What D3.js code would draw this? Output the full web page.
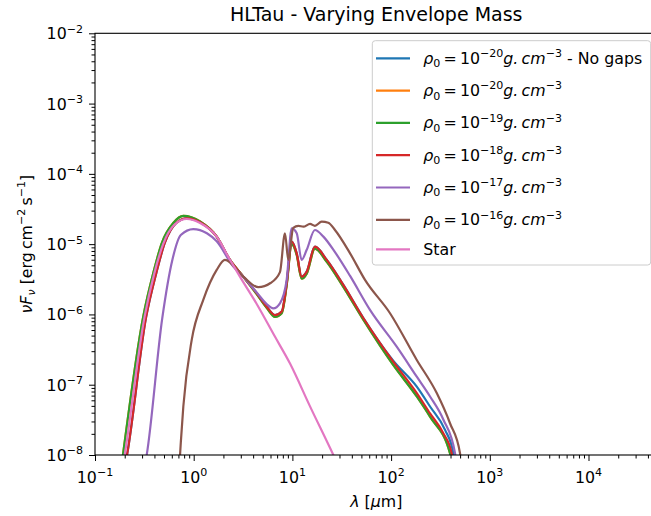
<!DOCTYPE html>
<html>
<head>
<meta charset="utf-8">
<script src="https://cdn.jsdelivr.net/npm/d3@7"></script>
<style>
  body { margin: 0; background: #fff; }
  svg { font-family: "DejaVu Sans", sans-serif; }
</style>
</head>
<body>
<svg id="sed"></svg>
<script>
// SED points: [wavelength in um, nuFnu in erg cm-2 s-1]
const sedNoGaps = [[0.205, 8e-9], [0.211, 1e-8], [0.33, 9.3e-7], [0.418, 3.9e-6], [0.508, 1.03e-5], [0.666, 2.0e-5], [0.85, 2.33e-5], [1.16, 2.05e-5], [1.71, 1.28e-5], [2.33, 5.96e-6], [3.18, 3.45e-6], [4.35, 2.0e-6], [5.49, 1.29e-6], [6.67, 9.8e-7], [7.79, 1.1e-6], [8.75, 2.78e-6], [9.84, 1.09e-5], [11.06, 7.4e-6], [12.4, 3.45e-6], [13.96, 4.06e-6], [16.9, 9.2e-6], [22.3, 5.96e-6], [32.8, 2.63e-6], [52.3, 8.9e-7], [105, 2.2e-7], [182, 9.4e-8], [248, 4.9e-8], [352, 2.28e-8], [427, 1.06e-8], [440, 8e-9]];
const sedRho20 = [[0.188, 8e-9], [0.192, 1e-8], [0.308, 9.3e-7], [0.39, 3.9e-6], [0.474, 1.03e-5], [0.621, 2.0e-5], [0.785, 2.52e-5], [1.16, 2.1e-5], [1.71, 1.28e-5], [2.33, 5.96e-6], [3.18, 3.45e-6], [4.35, 1.95e-6], [5.49, 1.24e-6], [6.67, 9.2e-7], [7.79, 1.04e-6], [8.75, 2.61e-6], [9.84, 1.0e-5], [11.06, 7.0e-6], [12.4, 3.23e-6], [13.96, 3.8e-6], [16.9, 8.6e-6], [22.3, 5.6e-6], [32.8, 2.46e-6], [52.3, 8.4e-7], [105, 1.91e-7], [182, 6.8e-8], [248, 3.5e-8], [395, 1.06e-8], [410, 8e-9]];
const sedRho19 = [[0.188, 8e-9], [0.192, 1e-8], [0.308, 9.3e-7], [0.39, 3.9e-6], [0.474, 1.03e-5], [0.621, 2.0e-5], [0.785, 2.52e-5], [1.16, 2.1e-5], [1.71, 1.28e-5], [2.33, 5.96e-6], [3.18, 3.45e-6], [4.35, 1.95e-6], [5.49, 1.24e-6], [6.67, 9.2e-7], [7.79, 1.04e-6], [8.75, 2.61e-6], [9.84, 1.0e-5], [11.06, 7.0e-6], [12.4, 3.23e-6], [13.96, 3.8e-6], [16.9, 8.6e-6], [22.3, 5.6e-6], [32.8, 2.46e-6], [52.3, 8.4e-7], [105, 1.91e-7], [182, 6.8e-8], [248, 3.5e-8], [395, 1.06e-8], [410, 8e-9]];
const sedRho18 = [[0.205, 8e-9], [0.211, 1e-8], [0.33, 9.3e-7], [0.418, 3.9e-6], [0.508, 1.03e-5], [0.666, 2.0e-5], [0.85, 2.33e-5], [1.16, 2.05e-5], [1.71, 1.28e-5], [2.33, 5.96e-6], [3.18, 3.45e-6], [4.35, 2.0e-6], [5.49, 1.29e-6], [6.67, 9.8e-7], [7.79, 1.1e-6], [8.75, 2.78e-6], [9.84, 1.09e-5], [11.06, 7.4e-6], [12.4, 3.45e-6], [13.96, 4.06e-6], [16.9, 9.2e-6], [22.3, 5.96e-6], [32.8, 2.63e-6], [52.3, 8.9e-7], [105, 2.13e-7], [182, 7.6e-8], [248, 3.9e-8], [338, 2.04e-8], [411, 1.06e-8], [425, 8e-9]];
const sedRho17 = [[0.325, 8e-9], [0.334, 1e-8], [0.48, 8.8e-7], [0.61, 6.1e-6], [0.74, 1.35e-5], [0.99, 1.64e-5], [1.36, 1.43e-5], [1.71, 1.1e-5], [2.52, 4.79e-6], [3.18, 3.45e-6], [4.35, 2.05e-6], [5.49, 1.4e-6], [6.40, 1.22e-6], [7.48, 1.44e-6], [8.75, 3.1e-6], [9.84, 1.68e-5], [11.06, 1.43e-5], [12.4, 5.96e-6], [13.96, 8.3e-6], [16.9, 1.59e-5], [20.6, 1.28e-5], [27.0, 7.7e-6], [38.4, 3.53e-6], [61.1, 1.16e-6], [114, 3.48e-7], [182, 1.3e-7], [248, 6.8e-8], [338, 3.2e-8], [444, 1.06e-8], [455, 8e-9]];
const sedRho16 = [[0.72, 8e-9], [0.74, 1.5e-8], [0.785, 4.9e-8], [0.955, 4.34e-7], [1.25, 1.61e-6], [1.71, 4.3e-6], [2.07, 5.96e-6], [3.18, 3.45e-6], [4.51, 2.44e-6], [6.0, 2.8e-6], [7.48, 4.0e-6], [8.41, 1.43e-5], [9.08, 5.96e-6], [10.2, 1.7e-5], [11.5, 1.82e-5], [12.9, 1.77e-5], [15.1, 1.94e-5], [16.9, 1.82e-5], [19.8, 2.09e-5], [23.1, 2.02e-5], [27.0, 1.59e-5], [38.4, 7.4e-6], [54.4, 3.1e-6], [97.5, 1.04e-6], [182, 2.25e-7], [290, 7.6e-8], [395, 2.83e-8], [499, 1.06e-8], [510, 8e-9]];
const sedStar = [[0.195, 8e-9], [0.2, 1e-8], [0.318, 9.3e-7], [0.40, 3.9e-6], [0.49, 1.0e-5], [0.64, 1.9e-5], [0.85, 2.28e-5], [1.16, 2.0e-5], [1.71, 1.28e-5], [2.33, 6.0e-6], [2.94, 3.45e-6], [4.35, 1.41e-6], [6.67, 4.8e-7], [9.46, 2.0e-7], [15, 5.0e-8], [26, 1.0e-8], [28, 8e-9]];

// legend exponents for rho_0, in plotting order
const rhoExponents = ["\u221220", "\u221220", "\u221219", "\u221218", "\u221217", "\u221216"];
const seriesColors = ["#1f77b4", "#ff7f0e", "#2ca02c", "#d62728", "#9467bd", "#8c564b", "#e377c2"];
const allSeries = [sedNoGaps, sedRho20, sedRho19, sedRho18, sedRho17, sedRho16, sedStar];

// axis ticks
const xMajor = [1e-1, 1e0, 1e1, 1e2, 1e3, 1e4];
const xMajorExp = ["\u22121", "0", "1", "2", "3", "4"];
const yMajor = [1e-8, 1e-7, 1e-6, 1e-5, 1e-4, 1e-3, 1e-2];
const yMajorExp = ["\u22128", "\u22127", "\u22126", "\u22125", "\u22124", "\u22123", "\u22122"];

width = 651;
height = 516;
left = 95;
top_ = 33.3;
bottom = 455;
right = 657.5; // the right spine falls just outside the picture

svg = d3.select("#sed").attr("width", width).attr("height", height);

const x = d3.scaleLog().domain([0.1, 5e4]).range([left, right]);
const y = d3.scaleLog().domain([1e-8, 1e-2]).range([bottom, top_]);

// write mathtext-like strings with tspans: [text, mode] mode = "", "it", "sup", "sub", "itsub"
function richText(sel, parts, fs) {
  let cur = 0;
  parts.forEach(([t, mode]) => {
    let off = 0, size = fs;
    if (mode.indexOf("sup") >= 0) { off = -0.42 * fs; size = 0.7 * fs; }
    if (mode.indexOf("sub") >= 0) { off = 0.22 * fs; size = 0.7 * fs; }
    sel.append("tspan")
      .attr("dy", off - cur)
      .style("font-size", size + "px")
      .style("font-style", mode.indexOf("it") >= 0 ? "italic" : "normal")
      .text(t);
    cur = off;
  });
}

// minor tick values for a log axis
function minors(lo, hi) {
  const out = [];
  for (let e = Math.floor(Math.log10(lo)); e <= Math.ceil(Math.log10(hi)); e++) {
    for (let m = 2; m <= 9; m++) {
      const v = m * Math.pow(10, e);
      if (v > lo && v < hi) out.push(v);
    }
  }
  return out;
}

svg.append("defs").append("clipPath").attr("id", "plot-clip")
  .append("rect")
  .attr("x", left).attr("y", top_)
  .attr("width", right - left).attr("height", bottom - top_);

// curves
const line = d3.line()
  .x(d => x(d[0]))
  .y(d => y(d[1]))
  .curve(d3.curveMonotoneX);

svg.append("g").attr("clip-path", "url(#plot-clip)")
  .selectAll("path")
  .data(allSeries)
  .enter()
  .append("path")
  .attr("d", line)
  .attr("fill", "none")
  .attr("stroke", (d, i) => seriesColors[i])
  .attr("stroke-width", 2.2)
  .attr("stroke-linejoin", "round");

// axes (labels are drawn separately so they can carry superscripts)
const xAxisMinor = d3.axisBottom(x).tickValues(minors(0.1, 5e4)).tickSize(3.5).tickFormat("").tickSizeOuter(0);
const xAxisMajor = d3.axisBottom(x).tickValues(xMajor).tickSize(6).tickFormat("").tickSizeOuter(0);
const yAxisMinor = d3.axisLeft(y).tickValues(minors(1e-8, 1e-2)).tickSize(3.5).tickFormat("").tickSizeOuter(0);
const yAxisMajor = d3.axisLeft(y).tickValues(yMajor).tickSize(6).tickFormat("").tickSizeOuter(0);

[[xAxisMinor, `translate(0,${bottom})`], [xAxisMajor, `translate(0,${bottom})`],
 [yAxisMinor, `translate(${left},0)`], [yAxisMajor, `translate(${left},0)`]].forEach(([ax, tr]) => {
  const g = svg.append("g").attr("transform", tr).call(ax);
  g.select(".domain").remove();
  g.selectAll("line").attr("stroke", "#000").attr("stroke-width", 1);
});

// frame
svg.append("rect")
  .attr("x", left).attr("y", top_)
  .attr("width", right - left).attr("height", bottom - top_)
  .attr("fill", "none").attr("stroke", "#000").attr("stroke-width", 1.1);

// tick labels
xMajor.forEach((v, i) => {
  const t = svg.append("text")
    .attr("x", x(v)).attr("y", 483)
    .attr("text-anchor", "middle")
    .attr("fill", "#000");
  richText(t, [["10", ""], [xMajorExp[i], "sup"]], 15.8);
});
yMajor.forEach((v, i) => {
  const t = svg.append("text")
    .attr("x", left - 12).attr("y", y(v) + 6)
    .attr("text-anchor", "end")
    .attr("fill", "#000");
  richText(t, [["10", ""], [yMajorExp[i], "sup"]], 15.8);
});

// title and axis labels
svg.append("text")
  .attr("x", (left + right) / 2).attr("y", 21)
  .attr("text-anchor", "middle")
  .style("font-size", "19px")
  .text("HLTau - Varying Envelope Mass");

const xl = svg.append("text")
  .attr("x", (left + right) / 2).attr("y", 507)
  .attr("text-anchor", "middle");
richText(xl, [["\u03bb", "it"], [" [", ""], ["\u03bc", "it"], ["m]", ""]], 15.8);

const yl = svg.append("text")
  .attr("transform", `translate(32,${(top_ + bottom) / 2}) rotate(-90)`)
  .attr("text-anchor", "middle");
richText(yl, [["\u03bdF", "it"], ["\u03bd", "itsub"], [" [erg\u2009cm", ""], ["\u22122", "sup"], ["\u2009s", ""], ["\u22121", "sup"], ["]", ""]], 15.8);

// legend
const legend = svg.append("g");
legend.append("rect")
  .attr("x", 372.3).attr("y", 40.7)
  .attr("width", 278.4).attr("height", 224.3)
  .attr("rx", 3)
  .attr("fill", "#fff").attr("fill-opacity", 0.8)
  .attr("stroke", "#cccccc").attr("stroke-width", 1);

const rowY = [58.3, 90.6, 122.9, 155.2, 187.5, 219.8, 249.3];
seriesColors.forEach((c, i) => {
  legend.append("line")
    .attr("x1", 376).attr("x2", 410)
    .attr("y1", rowY[i]).attr("y2", rowY[i])
    .attr("stroke", c).attr("stroke-width", 2.2);
  const t = legend.append("text")
    .attr("x", 423.3).attr("y", rowY[i] + 5.5)
    .attr("fill", "#000");
  if (i < rhoExponents.length) {
    const parts = [["\u03c1", "it"], ["0", "sub"], ["\u2009=\u200910", ""], [rhoExponents[i], "sup"], ["g.\u2009cm", "it"], ["\u22123", "sup"]];
    if (i === 0) parts.push([" - No gaps", ""]);
    richText(t, parts, 15.8);
  } else {
    richText(t, [["Star", ""]], 15.8);
  }
});
</script>
</body>
</html>
